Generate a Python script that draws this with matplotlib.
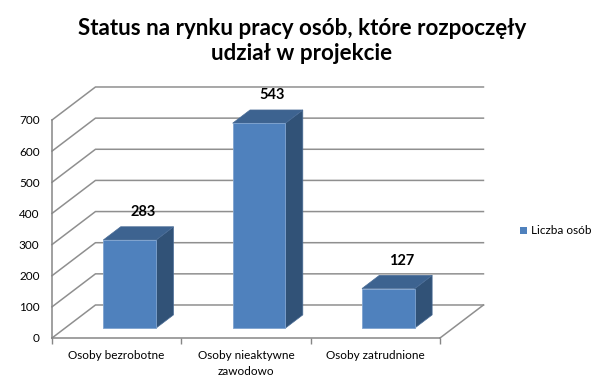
import numpy as np
import matplotlib
matplotlib.use('Agg')
import matplotlib.pyplot as plt
from matplotlib.patches import Polygon, Rectangle

plt.rcParams['font.family'] = ['Lato', 'DejaVu Sans']

categories = ['Osoby bezrobotne', 'Osoby nieaktywne\nzawodowo', 'Osoby zatrudnione']
bar_heights = [283, 658, 127]
value_labels = ['283', '543', '127']
y_ticks = [0, 100, 200, 300, 400, 500, 600, 700]
title = 'Status na rynku pracy osób, które rozpoczęły\nudział w projekcie'
legend_label = 'Liczba osób'

W, H = 605, 390
front_color = '#4f81bd'
side_color = '#315277'
top_color = '#3d6390'
axis_color = '#868686'
grid_color = '#8f8f8f'

fig = plt.figure(figsize=(W / 100, H / 100), dpi=100)
# axes rectangle is the front face of the 3D box
ax = fig.add_axes([52 / W, 1 - 338 / H, 388 / W, 218 / H])
ax.set_xlim(0, 3)
ax.set_ylim(0, 700)

# depth of the box in data units
depth_x = 0.336
depth_y = 106
bar_w = 0.408
d0, d1 = 0.3, 0.7

# walls and gridlines
for t in y_ticks:
    ax.plot([0, depth_x, 3 + depth_x], [t, t + depth_y, t + depth_y],
            color=grid_color, lw=1.1, clip_on=False, zorder=1)
ax.plot([3, 3 + depth_x], [0, depth_y], color=grid_color, lw=1.1, clip_on=False, zorder=1)

# bars, front + side + top
for i, h in enumerate(bar_heights):
    x0 = i + 0.5 - bar_w / 2 + d0 * depth_x
    x1 = x0 + bar_w
    y0 = d0 * depth_y
    y1 = y0 + h
    dx = (d1 - d0) * depth_x
    dy = (d1 - d0) * depth_y
    ax.add_patch(Polygon([(x1, y0), (x1 + dx, y0 + dy), (x1 + dx, y1 + dy), (x1, y1)],
                         fc=side_color, ec='#4a6c96', lw=0.5, clip_on=False, zorder=3))
    ax.add_patch(Polygon([(x0, y1), (x1, y1), (x1 + dx, y1 + dy), (x0 + dx, y1 + dy)],
                         fc=top_color, ec='#4a6c96', lw=0.5, clip_on=False, zorder=3))
    ax.add_patch(Rectangle((x0, y0), bar_w, h, fc=front_color, ec='#7fa3cf', lw=0.6,
                           clip_on=False, zorder=4))
    ax.text(x0 + bar_w / 2 + dx / 2 + 0.035, y1 + dy + 24, value_labels[i], ha='center', va='bottom',
            fontsize=10.5, fontweight='bold', color='black', zorder=5)

for s in ['top', 'right']:
    ax.spines[s].set_visible(False)
for s in ['left', 'bottom']:
    ax.spines[s].set_color(axis_color)
    ax.spines[s].set_linewidth(1.1)

ax.set_xticks([0, 1, 2, 3])
ax.set_xticklabels([])
ax.tick_params(axis='x', length=4, width=1, color=axis_color)
ax.set_yticks(y_ticks)
ax.tick_params(axis='y', length=0, pad=9, labelsize=8.5, labelcolor='black')

for i, c in enumerate(categories):
    ax.text(i + 0.5, -40, c, ha='center', va='top', fontsize=8.5, color='black',
            linespacing=1.5, clip_on=False)

fig.text(302 / W, 1 - 41 / H, title, ha='center', va='center', fontsize=16.1,
         fontweight='bold', color='black', linespacing=1.25)

# legend
fig.patches.append(Rectangle((520 / W, 1 - 233.5 / H), 7 / W, 7 / H, transform=fig.transFigure,
                             fc=front_color, ec='none'))
fig.text(531 / W, 1 - 230 / H, legend_label, ha='left', va='center', fontsize=8.5, color='black')

fig.savefig('out.png', dpi=100, facecolor='white')
